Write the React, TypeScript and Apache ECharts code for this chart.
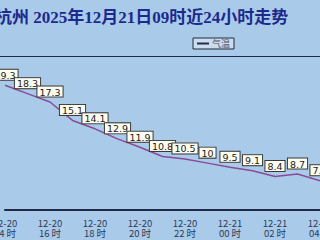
import React, { useEffect, useRef } from "react";
import * as echarts from "echarts";

const titleText = "杭州 2025年12月21日09时近24小时走势";
const seriesName = "气温";
const dates = ["12-20", "12-20", "12-20", "12-20", "12-20", "12-20", "12-20", "12-20", "12-20", "12-20", "12-21", "12-21", "12-21", "12-21", "12-21"];
const hours = ["14", "15", "16", "17", "18", "19", "20", "21", "22", "23", "00", "01", "02", "03", "04"];
const temps = [19.3, 18.3, 17.3, 15.1, 14.1, 12.9, 11.9, 10.8, 10.5, 10, 9.5, 9.1, 8.4, 8.7, 7.9];

export default function App() {
  const ref = useRef<HTMLDivElement>(null);
  useEffect(() => {
    if (!ref.current) return;
    const chart = echarts.init(ref.current, undefined, { renderer: "svg" });
    const categories = dates.map((d, i) => `${d}\n${hours[i]} 时`);
    chart.setOption({
      animation: false,
      backgroundColor: "#a9cbe9",
      graphic: [
        {
          type: "text",
          left: -5,
          top: 9,
          style: {
            text: titleText,
            fill: "#1b2a8c",
            font: 'bold 17px "Liberation Serif", "Noto Sans CJK SC", serif',
          },
        },
        {
          type: "line",
          shape: { x1: 0, y1: 56.5, x2: 320, y2: 56.5 },
          style: { stroke: "#1e2a48", lineWidth: 1 },
        },
      ],
      legend: {
        left: 193,
        top: 38,
        padding: [1, 4],
        backgroundColor: "#c9dcf0",
        borderColor: "#222a3a",
        borderWidth: 1,
        borderRadius: 0,
        icon: "rect",
        itemWidth: 12,
        itemHeight: 2,
        itemGap: 4,
        data: [{ name: seriesName, itemStyle: { color: "#2a2a44" } }],
        textStyle: { fontSize: 9, color: "#4a5060", fontFamily: "Noto Sans CJK SC", padding: [0, 0, 0, -2] },
      },
      grid: { left: 5, right: 0, top: 56, bottom: 30, outerBoundsMode: "none", containLabel: false },
      xAxis: {
        type: "category",
        data: categories,
        boundaryGap: false,
        axisLine: { show: true, lineStyle: { color: "#1e2a48", width: 2 } },
        axisTick: { show: false },
        axisLabel: {
          interval: 1,
          fontSize: 9.5,
          lineHeight: 10,
          margin: 8,
          color: "#2e3a58",
          fontFamily: "Noto Sans CJK SC",
        },
        splitLine: { show: false },
      },
      yAxis: {
        type: "value",
        min: 4.4,
        max: 22.8,
        show: false,
        splitLine: { show: false },
      },
      series: [
        {
          name: seriesName,
          type: "line",
          data: temps,
          symbol: "circle",
          symbolSize: 1,
          showSymbol: true,
          lineStyle: { color: "#8a4a9a", width: 1.5 },
          itemStyle: { color: "rgba(0,0,0,0)" },
          label: {
            show: true,
            position: "top",
            distance: 5,
            fontSize: 9.5,
            lineHeight: 9,
            color: "#222",
            fontFamily: "DejaVu Sans",
            backgroundColor: "#fdfdf0",
            borderColor: "#3a3a3a",
            borderWidth: 1,
            padding: [1, 2, 0, 2],
          },
        },
      ],
    });
    return () => chart.dispose();
  }, []);
  return (
    <div
      ref={ref}
      style={{ position: "fixed", left: 0, top: 0, width: 320, height: 240 }}
    />
  );
}
